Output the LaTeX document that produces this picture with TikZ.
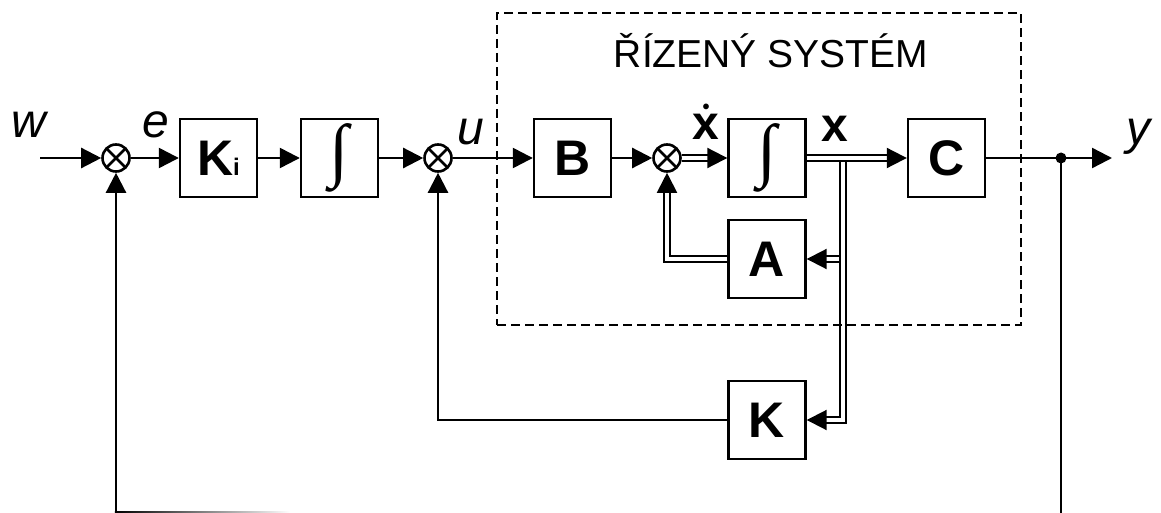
\documentclass[tikz,border=0pt]{standalone}
\usepackage{fontspec}
\setmainfont{Liberation Sans}
\newfontfamily\serifint{Liberation Serif}
\usetikzlibrary{arrows.meta}
\tikzset{
  blk/.style={draw, line width=2.4pt, minimum width=77pt, minimum height=78pt, inner sep=0pt,
    font=\fontsize{50}{55}\selectfont\bfseries},
  sumnode/.style={draw, circle, line width=2.6pt, minimum size=27pt, inner sep=0pt,
    path picture={\draw[line width=2.6pt] (path picture bounding box.north west) -- (path picture bounding box.south east)
      (path picture bounding box.north east) -- (path picture bounding box.south west);}},
  lbl/.style={anchor=base, inner sep=0pt, font=\fontsize{48}{50}\selectfont\itshape},
  xlbl/.style={anchor=base, inner sep=0pt, font=\fontsize{48}{50}\selectfont\bfseries},
  sig/.style={line width=2.4pt, -{Triangle[length=20pt,width=20pt]}},
  wire/.style={line width=2.4pt},
  dsig/.style={draw, line width=2pt, double=white, double distance=4pt, -{Triangle[length=20pt,width=20pt]}},
  junc/.style={circle, fill=black, minimum size=11pt, inner sep=0pt},
  intg/.style={font=\serifint\fontsize{70}{75}\selectfont},
  sysbox/.style={draw, line width=2.4pt, dash pattern=on 9pt off 5pt, inner sep=0pt}
}
\begin{document}
\begin{tikzpicture}[x=1pt, y=-1pt]
\useasboundingbox (0,0) rectangle (1161,513);
% blocks
\node[sumnode] (s1) at (116,158) {};
\node[blk] (Ki) at (218.5,158) {K\fontsize{24}{24}\selectfont i};
\node[blk, intg] (I1) at (339.5,158) {∫};
\node[sumnode] (s2) at (438,158) {};
\node[blk] (B) at (572.5,158) {B};
\node[sumnode] (s3) at (667,158) {};
\node[blk, intg] (I2) at (767,158) {∫};
\node[blk] (C) at (946.5,158) {C};
\node[blk] (A) at (767,259) {A};
\node[blk] (K) at (767,420) {K};
\node[junc] (jn) at (1061,158) {};
% labels
\node[lbl] (lw) at (29,138) {w};
\node[lbl] (le) at (156,138) {e};
\node[lbl] (lu) at (471,145) {u};
\node[lbl] (ly) at (1138,145) {y};
\node[xlbl] (lxd) at (706,140) {\ooalign{x\cr\hidewidth\raisebox{26pt}{\fontsize{20}{20}\selectfont •}\hidewidth\cr}};
\node[xlbl] (lx) at (835,142) {x};
\node[anchor=base, inner sep=0pt, font=\fontsize{39}{42}\selectfont] (title) at (771,68) {ŘÍZENÝ SYSTÉM};
% coordinates
\coordinate (win) at (40,158);
\coordinate (yout) at (1112,158);
\coordinate (botL) at (116,513);
\coordinate (botR) at (1061,513);
\coordinate (tap1) at (843,162);
\coordinate (tap2) at (839,259);
% connectors
\draw[sig] (win) -- (s1);
\draw[sig] (s1) -- (Ki);
\draw[sig] (Ki) -- (I1);
\draw[sig] (I1) -- (s2);
\draw[sig] (s2) -- (B);
\draw[sig] (B) -- (s3);
\draw[dsig] (s3) -- (I2);
\draw[dsig] (I2) -- (C);
\draw[sig] (C) -- (yout);
\draw[wire] (jn.center) -- (botR);
\draw[sig] (botL) -- (s1);
\draw[sig] (K.west) -| (s2.south);
\draw[dsig] (A.west) -| (s3.south);
\draw[dsig] (tap1) |- (K.east);
\draw[dsig] (tap2) -- (A.east);
\shade[left color=black, right color=white] (114.8,511) rectangle (290,513);
% controlled system frame
\node[sysbox, minimum width=524pt, minimum height=312pt] (sys) at (759,169) {};
\end{tikzpicture}
\end{document}
